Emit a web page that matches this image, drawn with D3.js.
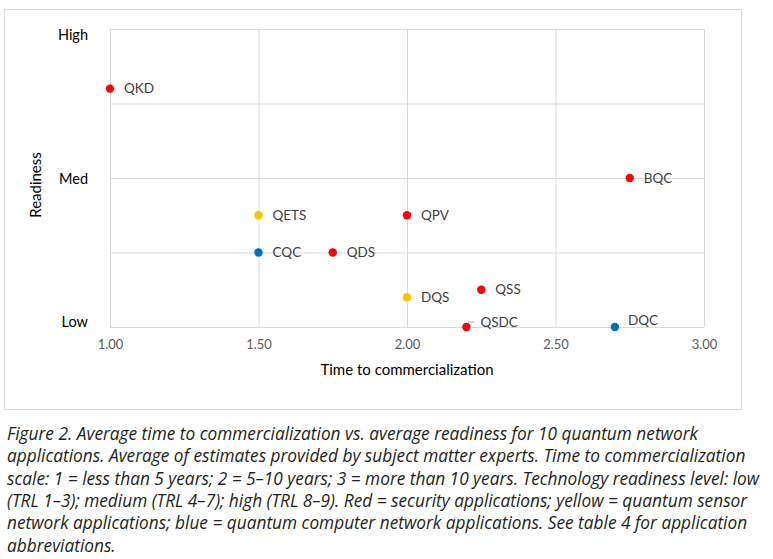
<!DOCTYPE html>
<html>
<head>
<meta charset="utf-8">
<script src="https://cdn.jsdelivr.net/npm/d3@7"></script>
<style>
  html, body { margin: 0; padding: 0; background: #fff; }
  svg { display: block; }
</style>
</head>
<body>
<svg id="chart"></svg>
<script>
// application abbreviations and their averaged estimates
const apps = ["QKD", "BQC", "QETS", "QPV", "CQC", "QDS", "DQS", "QSS", "QSDC", "DQC"];
const timeToMarket = [1.00, 2.75, 1.50, 2.00, 1.50, 1.75, 2.00, 2.25, 2.20, 2.70];
const readiness = [2.60, 2.00, 1.75, 1.75, 1.50, 1.50, 1.20, 1.25, 1.00, 1.00];
const group = ["security", "security", "sensor", "security", "computer", "security", "sensor", "security", "security", "computer"];

const xTicks = [1.00, 1.50, 2.00, 2.50, 3.00];
const yGrid = [1.0, 1.5, 2.0, 2.5, 3.0];
const readinessLevels = ["Low", "Med", "High"];

const caption = [
    "Figure 2. Average time to commercialization vs. average readiness for 10 quantum network",
    "applications. Average of estimates provided by subject matter experts. Time to commercialization",
    "scale: 1 = less than 5 years; 2 = 5\u201310 years; 3 = more than 10 years. Technology readiness level: low",
    "(TRL 1\u20133); medium (TRL 4\u20137); high (TRL 8\u20139). Red = security applications; yellow = quantum sensor",
    "network applications; blue = quantum computer network applications. See table 4 for application",
    "abbreviations."
];

const W = 773, H = 559;
const margin = { top: 29, right: 69, bottom: 232, left: 110 };
const plotW = W - margin.left - margin.right;
const plotH = H - margin.top - margin.bottom;

const colors = { security: "#ff0000", sensor: "#ffc000", computer: "#0070c0" };
const chartFont = "Lato, 'Open Sans', sans-serif";

const svg = d3.select("#chart").attr("width", W).attr("height", H);

// chart frame
svg.append("rect")
    .attr("x", 4.5).attr("y", 9.5)
    .attr("width", 737).attr("height", 400)
    .attr("fill", "#fff")
    .attr("stroke", "#d9d9d9");

const g = svg.append("g").attr("transform", `translate(${margin.left}, ${margin.top})`);

const x = d3.scaleLinear().domain([1, 3]).range([0, plotW]);
const y = d3.scaleLinear().domain([1, 3]).range([plotH, 0]);

// gridlines
g.append("g")
    .call(d3.axisBottom(x).tickValues(xTicks).tickSize(plotH).tickFormat(""))
    .call(a => a.select(".domain").remove())
    .call(a => a.selectAll("line").attr("stroke", "#d9d9d9"));

g.append("g")
    .call(d3.axisLeft(y).tickValues(yGrid).tickSize(-plotW).tickFormat(""))
    .call(a => a.select(".domain").remove())
    .call(a => a.selectAll("line").attr("stroke", "#d9d9d9"));

// x axis labels
const xAxis = g.append("g")
    .attr("transform", `translate(0, ${plotH})`)
    .call(d3.axisBottom(x).tickValues(xTicks).tickSize(0).tickPadding(13).tickFormat(d3.format(".2f")));
xAxis.select(".domain").remove();
xAxis.selectAll("text")
    .attr("fill", "#595959")
    .attr("font-family", chartFont)
    .attr("font-size", "13px");

// y axis labels: Low / Med / High
const yNudge = { 1: -6, 2: 0, 3: 5 };
const yAxis = g.append("g")
    .call(d3.axisLeft(y).tickValues([1, 2, 3]).tickSize(0).tickPadding(22)
        .tickFormat(d => readinessLevels[d - 1]));
yAxis.select(".domain").remove();
yAxis.selectAll("text")
    .attr("fill", "#000")
    .attr("font-family", chartFont)
    .attr("font-size", "14.5px")
    .attr("dy", d => (yNudge[d] + 5) + "px");

// axis titles
svg.append("text")
    .attr("x", margin.left + plotW / 2)
    .attr("y", 375)
    .attr("text-anchor", "middle")
    .attr("font-family", chartFont)
    .attr("font-size", "15px")
    .attr("fill", "#000")
    .text("Time to commercialization");

svg.append("text")
    .attr("transform", "translate(41, 185) rotate(-90)")
    .attr("text-anchor", "middle")
    .attr("font-family", chartFont)
    .attr("font-size", "15px")
    .attr("fill", "#000")
    .text("Readiness");

// points
const pts = apps.map((name, i) => ({ name, t: timeToMarket[i], r: readiness[i], grp: group[i] }));

// label placement tweaks where Excel moved the label
const labelShift = { QSDC: { dx: 14, dy: -5, leader: true }, DQC: { dx: 13, dy: -7 } };

const labels = g.append("g");
pts.forEach(d => {
    const s = labelShift[d.name] || { dx: 14, dy: 0 };
    const px = x(d.t), py = y(d.r);
    if (s.leader) {
        labels.append("path")
            .attr("d", `M${px + 2},${py - 3}V${py - 5}H${px + 8}`)
            .attr("fill", "none")
            .attr("stroke", "#a6a6a6")
            .attr("stroke-width", 1);
    }
    labels.append("text")
        .attr("x", px + s.dx)
        .attr("y", py + s.dy)
        .attr("dy", "0.35em")
        .attr("font-family", chartFont)
        .attr("font-size", "13.5px")
        .attr("fill", "#404040")
        .text(d.name);
});

g.append("g")
    .selectAll("circle")
    .data(pts)
    .join("circle")
    .attr("cx", d => x(d.t))
    .attr("cy", d => y(d.r))
    .attr("r", 4.2)
    .attr("fill", d => colors[d.grp]);

// caption: size the font so the first line spans the same width as in the figure
const capText = svg.append("g")
    .selectAll("text")
    .data(caption)
    .join("text")
    .attr("x", 7)
    .attr("y", (d, i) => 440 + i * 22.3)
    .attr("font-family", "'Open Sans', sans-serif")
    .attr("font-style", "italic")
    .attr("font-size", "15.5px")
    .attr("fill", "#231f20")
    .text(d => d);

const firstW = capText.node().getComputedTextLength();
capText.attr("font-size", (15.5 * 691 / firstW).toFixed(2) + "px");
</script>
</body>
</html>
